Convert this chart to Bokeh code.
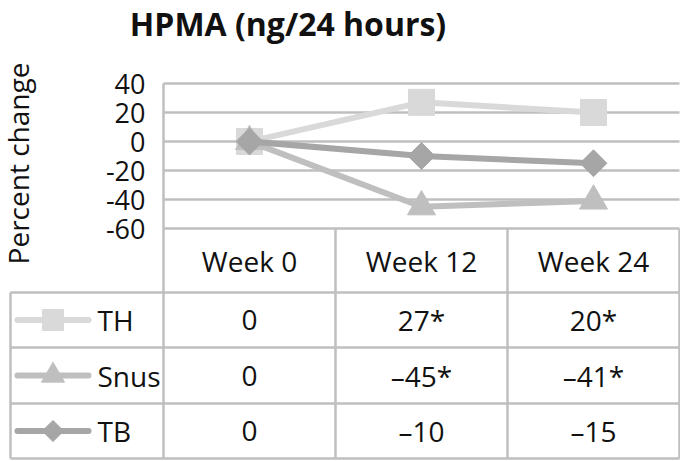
import math
from bokeh.plotting import figure
from bokeh.models import Range1d
from bokeh.core.properties import value
from bokeh.embed import file_html
from bokeh.resources import INLINE

# ---------------- data ----------------
categories = ["Week 0", "Week 12", "Week 24"]
series_names = ["TH", "Snus", "TB"]
th_values = [0, 27, 20]
snus_values = [0, -45, -41]
tb_values = [0, -10, -15]
th_sig = [False, True, True]
snus_sig = [False, True, True]
tb_sig = [False, False, False]
y_ticks = [40, 20, 0, -20, -40, -60]
y_tick_labels = ["40", "20", "0", "-20", "-40", "-60"]
title_text = "HPMA (ng/24 hours)"
y_label = "Percent change"

# ---------------- layout (pixels) ----------------
W, H = 680, 460
PLOT_LEFT, PLOT_RIGHT = 163, 679        # x of category 0 start / category 3 end
Y_ZERO, PX_PER_UNIT = 141, 1.45          # pixel y of value 0, pixels per unit
TBL_LEFT = 10
TBL_ROWS = [228, 292, 347, 403, 458]     # header top, header bottom, row bottoms
LEG_LINE = (17, 88)
LEG_TEXT_X = 97
TICK_X = 145

FONT = value("Open Sans")
TXT = "#111111"
GRID = "#bfbfbf"
colors = ["#d9d9d9", "#bfbfbf", "#a6a6a6"]

ncat = len(categories)
cat_w = (PLOT_RIGHT - PLOT_LEFT) / ncat
x_start = (0 - PLOT_LEFT) / cat_w
x_end = (W - PLOT_LEFT) / cat_w
y_end = Y_ZERO / PX_PER_UNIT
y_start = (Y_ZERO - H) / PX_PER_UNIT

p = figure(width=W, height=H, x_range=Range1d(x_start, x_end), y_range=Range1d(y_start, y_end),
           output_backend="svg", toolbar_location=None, x_axis_location=None, y_axis_location=None,
           min_border=0, outline_line_color=None, background_fill_color="white",
           border_fill_color="white")
p.grid.grid_line_color = None
p.extra_x_ranges = {"px": Range1d(0, W)}
p.extra_y_ranges = {"px": Range1d(H, 0)}

xs = [i + 0.5 for i in range(ncat)]

# gridlines
p.segment(x0=[0] * len(y_ticks), x1=[ncat] * len(y_ticks), y0=y_ticks, y1=y_ticks,
          line_color=GRID, line_width=2.5)
# vertical axis line
p.segment(x0=[0], x1=[0], y0=[max(y_ticks)], y1=[min(y_ticks)], line_color=GRID, line_width=2.5)

# tick labels
p.text(x=[TICK_X] * len(y_ticks), y=y_ticks, text=y_tick_labels, x_range_name="px",
       text_font=FONT, text_font_size=value("27px"), text_align="right",
       text_baseline="middle", text_color=TXT)

# title
p.text(x=[287.5], y=[23], text=[title_text], x_range_name="px", y_range_name="px",
       text_font=FONT, text_font_size=value("32px"), text_font_style="bold",
       text_align="center", text_baseline="middle", text_color=TXT)

# y axis label
p.text(x=[17], y=[163], text=[y_label], angle=math.pi / 2, x_range_name="px", y_range_name="px",
       text_font=FONT, text_font_size=value("28px"), text_align="center",
       text_baseline="middle", text_color=TXT)

# series
all_values = [th_values, snus_values, tb_values]
all_sig = [th_sig, snus_sig, tb_sig]
for vals, col, name in zip(all_values, colors, series_names):
    p.line(xs, vals, line_color=col, line_width=6, line_join="round")
    if name == "TH":
        p.scatter(xs, vals, marker="square", size=26, fill_color=col, line_color=col)
    elif name == "Snus":
        p.scatter(xs, vals, marker="triangle", size=28, fill_color=col, line_color=col)
    else:
        p.scatter(xs, vals, marker="square", angle=math.pi / 4, size=19, fill_color=col, line_color=col)

# ---------------- data table ----------------
h_y = TBL_ROWS[1:]
p.segment(x0=[TBL_LEFT] * len(h_y), x1=[PLOT_RIGHT] * len(h_y), y0=h_y, y1=h_y,
          x_range_name="px", y_range_name="px", line_color=GRID, line_width=2.5)
p.segment(x0=list(range(ncat + 1)), x1=list(range(ncat + 1)), y0=[TBL_ROWS[0]] * (ncat + 1),
          y1=[TBL_ROWS[-1]] * (ncat + 1), y_range_name="px", line_color=GRID, line_width=2.5)
p.segment(x0=[TBL_LEFT], x1=[TBL_LEFT], y0=[TBL_ROWS[1]], y1=[TBL_ROWS[-1]],
          x_range_name="px", y_range_name="px", line_color=GRID, line_width=2.5)

hdr_y = (TBL_ROWS[0] + TBL_ROWS[1]) / 2
p.text(x=xs, y=[hdr_y] * ncat, text=categories, y_range_name="px",
       text_font=FONT, text_font_size=value("28px"), text_align="center",
       text_baseline="middle", text_color=TXT)

row_c = [(TBL_ROWS[i + 1] + TBL_ROWS[i + 2]) / 2 for i in range(len(series_names))]


def fmt(v, s):
    t = str(v).replace("-", "\u2013")
    return t + ("*" if s else "")


for r, (vals, sig, col, name) in enumerate(zip(all_values, all_sig, colors, series_names)):
    yc = row_c[r]
    p.text(x=xs, y=[yc] * ncat, text=[fmt(v, s) for v, s in zip(vals, sig)], y_range_name="px",
           text_font=FONT, text_font_size=value("28px"), text_align="center",
           text_baseline="middle", text_color=TXT)
    p.line([LEG_LINE[0], LEG_LINE[1]], [yc, yc], x_range_name="px", y_range_name="px",
           line_color=col, line_width=6, line_cap="round")
    mx = (LEG_LINE[0] + LEG_LINE[1]) / 2
    if name == "TH":
        p.scatter([mx], [yc], marker="square", size=21, fill_color=col, line_color=col,
                  x_range_name="px", y_range_name="px")
    elif name == "Snus":
        p.scatter([mx], [yc], marker="triangle", size=23, fill_color=col, line_color=col,
                  x_range_name="px", y_range_name="px")
    else:
        p.scatter([mx], [yc], marker="square", angle=math.pi / 4, size=15, fill_color=col,
                  line_color=col, x_range_name="px", y_range_name="px")
    p.text(x=[LEG_TEXT_X], y=[yc], text=[name], x_range_name="px", y_range_name="px",
           text_font=FONT, text_font_size=value("28px"), text_align="left",
           text_baseline="middle", text_color=TXT)

open("out.html", "w").write(file_html(p, INLINE))
